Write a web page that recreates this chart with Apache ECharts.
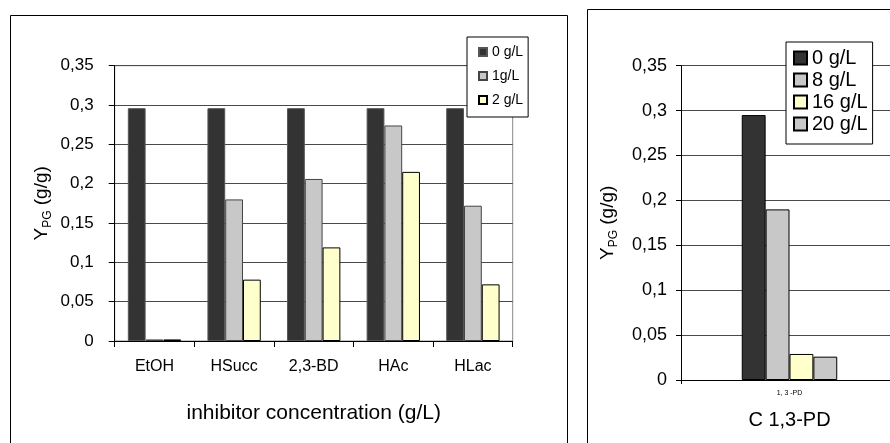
<!DOCTYPE html>
<html>
<head>
<meta charset="utf-8">
<script src="https://cdn.jsdelivr.net/npm/echarts@6/dist/echarts.min.js"></script>
<style>
html,body{margin:0;padding:0;background:#fff;overflow:hidden;}
#c{width:910px;height:443px;}
</style>
</head>
<body>
<div id="c"></div>
<script>
const categories = ['EtOH', 'HSucc', '2,3-BD', 'HAc', 'HLac'];
const leftNames = ['0 g/L', '1g/L', '2 g/L'];
const left0 = [0.296, 0.296, 0.296, 0.296, 0.296];
const left1 = [0.002, 0.180, 0.206, 0.274, 0.172];
const left2 = [0.002, 0.078, 0.119, 0.215, 0.072];

const rightCategories = ['1, 3 -PD'];
const rightNames = ['0 g/L ', '8 g/L', '16 g/L', '20 g/L'];
const right0 = [0.295];
const right8 = [0.190];
const right16 = [0.029];
const right20 = [0.026];

const yTickLabels = ['0', '0,05', '0,1', '0,15', '0,2', '0,25', '0,3', '0,35'];

const FONT = "'Liberation Sans', Arial, sans-serif";
const chart = echarts.init(document.getElementById('c'));

const DARK = '#333333', GRAY = '#C8C8C8', YEL = '#FFFFCC';
const yFmt = v => yTickLabels[Math.round(v / 0.05)];

function yAxis(gridIndex, fs, margin, tickLen) {
  return {
    type: 'value', gridIndex: gridIndex, min: 0, max: 0.35, interval: 0.05,
    name: '{a|Y}{b|PG}{a| (g/g)}',
    nameLocation: 'middle', nameGap: 61, nameRotate: 90,
    nameTextStyle: {
      rich: {
        a: { fontFamily: FONT, fontSize: 19, color: '#000', lineHeight: 24 },
        b: { fontFamily: FONT, fontSize: 12, color: '#000', lineHeight: 12, verticalAlign: 'bottom' }
      }
    },
    axisLine: { show: true, lineStyle: { color: '#000', width: 1 } },
    axisTick: { show: true, length: tickLen, lineStyle: { color: '#000' } },
    axisLabel: { formatter: yFmt, fontFamily: FONT, fontSize: fs, color: '#000', margin: margin },
    splitLine: { show: true, lineStyle: { color: '#4a4a4a', width: 1 } }
  };
}

const option = {
  animation: false,
  backgroundColor: '#fff',
  graphic: [
    { type: 'rect', shape: { x: 10.5, y: 15.5, width: 557, height: 450 }, style: { fill: 'none', stroke: '#000', lineWidth: 1 }, z: -1 },
    { type: 'rect', shape: { x: 587.5, y: 9.5, width: 340, height: 450 }, style: { fill: 'none', stroke: '#000', lineWidth: 1 }, z: -1 }
  ],
  grid: [
    { left: 114.7, top: 65.7, width: 398, height: 275.3, show: true, borderColor: '#888', borderWidth: 1, backgroundColor: 'transparent' },
    { left: 681, top: 65.7, width: 217, height: 314.3, show: false }
  ],
  legend: [
    {
      data: leftNames, orient: 'vertical', left: 467, top: 37,
      padding: [8, 5, 10, 11], itemGap: 10, itemWidth: 8, itemHeight: 8, icon: 'rect',
      backgroundColor: '#fff', borderColor: '#000', borderWidth: 1,
      textStyle: { fontFamily: FONT, fontSize: 14, color: '#000', lineHeight: 14 },
      selectedMode: false
    },
    {
      data: rightNames, orient: 'vertical', left: 786, top: 42,
      padding: [6, 5, 10, 7], itemGap: 2, itemWidth: 13, itemHeight: 13, icon: 'rect',
      backgroundColor: '#fff', borderColor: '#000', borderWidth: 1,
      textStyle: { fontFamily: FONT, fontSize: 20, color: '#000', lineHeight: 20 },
      selectedMode: false
    }
  ],
  xAxis: [
    {
      type: 'category', gridIndex: 0, data: categories,
      name: 'inhibitor concentration (g/L)', nameLocation: 'middle', nameGap: 62,
      nameTextStyle: { fontFamily: FONT, fontSize: 21, color: '#000' },
      axisLine: { lineStyle: { color: '#000', width: 1 } },
      axisTick: { show: true, length: 6, lineStyle: { color: '#000' } },
      axisLabel: { fontFamily: FONT, fontSize: 16, color: '#000', margin: 18 },
      splitLine: { show: false }
    },
    {
      type: 'category', gridIndex: 1, data: rightCategories,
      name: 'C 1,3-PD', nameLocation: 'middle', nameGap: 30,
      nameTextStyle: { fontFamily: FONT, fontSize: 20, color: '#000' },
      axisLine: { lineStyle: { color: '#000', width: 1 } },
      axisTick: { show: true, length: 4, lineStyle: { color: '#000' } },
      axisLabel: { fontFamily: FONT, fontSize: 7, color: '#000', margin: 10 },
      splitLine: { show: false }
    }
  ],
  yAxis: [ yAxis(0, 17, 21, 6), yAxis(1, 18, 14, 5) ],
  series: [
    { name: leftNames[0], type: 'bar', xAxisIndex: 0, yAxisIndex: 0, data: left0, barGap: '0%', barCategoryGap: '33%',
      itemStyle: { color: DARK, borderColor: '#555', borderWidth: 1 } },
    { name: leftNames[1], type: 'bar', xAxisIndex: 0, yAxisIndex: 0, data: left1, barGap: '0%', barCategoryGap: '33%',
      itemStyle: { color: GRAY, borderColor: '#444', borderWidth: 1 } },
    { name: leftNames[2], type: 'bar', xAxisIndex: 0, yAxisIndex: 0, data: left2, barGap: '0%', barCategoryGap: '33%',
      itemStyle: { color: YEL, borderColor: '#000', borderWidth: 1 } },
    { name: rightNames[0], type: 'bar', xAxisIndex: 1, yAxisIndex: 1, data: right0, barGap: '0%', barCategoryGap: '56%',
      itemStyle: { color: DARK, borderColor: '#000', borderWidth: 1 } },
    { name: rightNames[1], type: 'bar', xAxisIndex: 1, yAxisIndex: 1, data: right8, barGap: '0%', barCategoryGap: '56%',
      itemStyle: { color: GRAY, borderColor: '#000', borderWidth: 1 } },
    { name: rightNames[2], type: 'bar', xAxisIndex: 1, yAxisIndex: 1, data: right16, barGap: '0%', barCategoryGap: '56%',
      itemStyle: { color: YEL, borderColor: '#000', borderWidth: 1 } },
    { name: rightNames[3], type: 'bar', xAxisIndex: 1, yAxisIndex: 1, data: right20, barGap: '0%', barCategoryGap: '56%',
      itemStyle: { color: GRAY, borderColor: '#000', borderWidth: 1 } }
  ]
};
chart.setOption(option);
</script>
</body>
</html>
